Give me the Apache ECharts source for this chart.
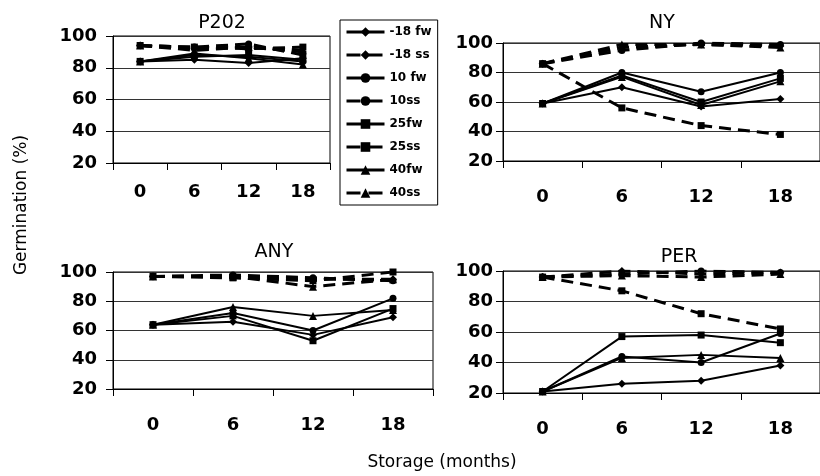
<!DOCTYPE html>
<html><head><meta charset="utf-8">
<script src="https://cdn.jsdelivr.net/npm/echarts@6/dist/echarts.min.js"></script>
<style>html,body{margin:0;padding:0;background:#fff}#c{width:820px;height:476px}</style>
</head><body><div id="c"></div>
<script>
const months = ['0', '6', '12', '18'];
const seriesNames = ['-18 fw', '-18 ss', '10 fw', '10ss', '25fw', '25ss', '40fw', '40ss'];
const panelNames = ['P202', 'NY', 'ANY', 'PER'];
const yMin = 20, yMax = 100, yStep = 20;

// rows follow seriesNames order
const P202 = [
  [84, 85, 83, 86],
  [94, 92, 93, 90],
  [84, 88, 87, 84],
  [94, 93, 95, 88],
  [84, 87, 88, 85],
  [94, 93, 92, 93],
  [84, 89, 86, 82],
  [94, 91, 93, 91]
];
const NY = [
  [59, 70, 57, 62],
  [86, 97, 99, 98],
  [59, 80, 67, 80],
  [86, 95, 100, 99],
  [59, 78, 60, 76],
  [86, 56, 44, 38],
  [59, 77, 58, 74],
  [86, 99, 99, 97]
];
const ANY = [
  [64, 66, 57, 69],
  [97, 97, 95, 95],
  [64, 72, 60, 82],
  [97, 98, 96, 94],
  [64, 70, 53, 75],
  [97, 96, 94, 100],
  [64, 76, 70, 74],
  [97, 97, 90, 95]
];
const PER = [
  [21, 26, 28, 38],
  [96, 100, 98, 99],
  [21, 44, 40, 59],
  [96, 98, 100, 99],
  [21, 57, 58, 53],
  [96, 87, 72, 62],
  [21, 43, 45, 43],
  [96, 97, 96, 98]
];
const panelData = [P202, NY, ANY, PER];

const FONT = 'DejaVu Sans';
const symbols = ['diamond', 'diamond', 'circle', 'circle', 'rect', 'rect', 'triangle', 'triangle'];
const symSizes = [8, 8, 7, 7, 7, 7, 8, 8];

const grids = [
  {left: 113, top: 36, width: 217, height: 127},
  {left: 503, top: 43, width: 318, height: 118},
  {left: 113, top: 272, width: 320, height: 117},
  {left: 503, top: 271, width: 318, height: 122}
];
const yLabelMargin = [16, 10, 16, 10];
const xLabelMargin = [20, 27, 27, 27];
const titlePos = [[222, 23], [662, 23], [274, 252], [679, 257]];

const chart = echarts.init(document.getElementById('c'), null, {renderer: 'canvas'});

const option = {
  animation: false,
  backgroundColor: '#fff',
  grid: grids.map(g => Object.assign({show: true, borderColor: '#000', borderWidth: 1, backgroundColor: 'transparent'}, g)),
  xAxis: grids.map((g, i) => ({
    type: 'category', gridIndex: i, data: months, boundaryGap: true,
    axisLine: {show: true, lineStyle: {color: '#000', width: 1}},
    axisTick: {show: true, length: 7, lineStyle: {color: '#000'}},
    axisLabel: {color: '#000', fontFamily: FONT, fontWeight: 'bold', fontSize: 18, margin: xLabelMargin[i]},
    splitLine: {show: false}
  })),
  yAxis: grids.map((g, i) => ({
    type: 'value', gridIndex: i, min: yMin, max: yMax, interval: yStep,
    axisLine: {show: true, lineStyle: {color: '#000', width: 1}},
    axisTick: {show: true, length: 7, lineStyle: {color: '#000'}},
    axisLabel: {color: '#000', fontFamily: FONT, fontWeight: 'bold', fontSize: 18, margin: yLabelMargin[i]},
    splitLine: {show: true, lineStyle: {color: '#333', width: 1}}
  })),
  legend: {
    orient: 'vertical', left: 340, top: 20,
    data: seriesNames.map((n, s) => ({
      name: n,
      lineStyle: {color: '#000', width: 3, type: s % 2 === 1 ? [14, 8] : 'solid'}
    })),
    lineStyle: {color: '#000', width: 3},
    itemStyle: {color: '#000'},
    borderColor: '#000', borderWidth: 1, padding: [6, 6, 6, 5],
    itemWidth: 38, itemHeight: 12, itemGap: 11,
    textStyle: {fontFamily: FONT, fontWeight: 'bold', fontSize: 12, color: '#000'},
    backgroundColor: '#fff'
  },
  graphic: [
    ...panelNames.map((n, i) => ({
      type: 'text', x: titlePos[i][0], y: titlePos[i][1],
      style: {text: n, fill: '#000', font: '19px "DejaVu Sans"', align: 'center', verticalAlign: 'middle'}
    })),
    {type: 'text', x: 22, y: 205, rotation: Math.PI / 2,
      style: {text: 'Germination (%)', fill: '#000', font: '17px "DejaVu Sans"', align: 'center', verticalAlign: 'middle'}},
    {type: 'text', x: 442, y: 463,
      style: {text: 'Storage (months)', fill: '#000', font: '17px "DejaVu Sans"', align: 'center', verticalAlign: 'middle'}}
  ],
  series: []
};

panelData.forEach((rows, p) => {
  rows.forEach((vals, s) => {
    const dashed = s % 2 === 1;
    option.series.push({
      name: seriesNames[s], type: 'line', xAxisIndex: p, yAxisIndex: p,
      data: vals, symbol: symbols[s], symbolSize: symSizes[s], showSymbol: true,
      lineStyle: {color: '#000', width: dashed ? 3 : 2, type: dashed ? [12, 7] : 'solid'},
      itemStyle: {color: '#000'},
      emphasis: {disabled: true}, z: dashed ? 3 : 2
    });
  });
});

chart.setOption(option);
</script>
</body></html>
